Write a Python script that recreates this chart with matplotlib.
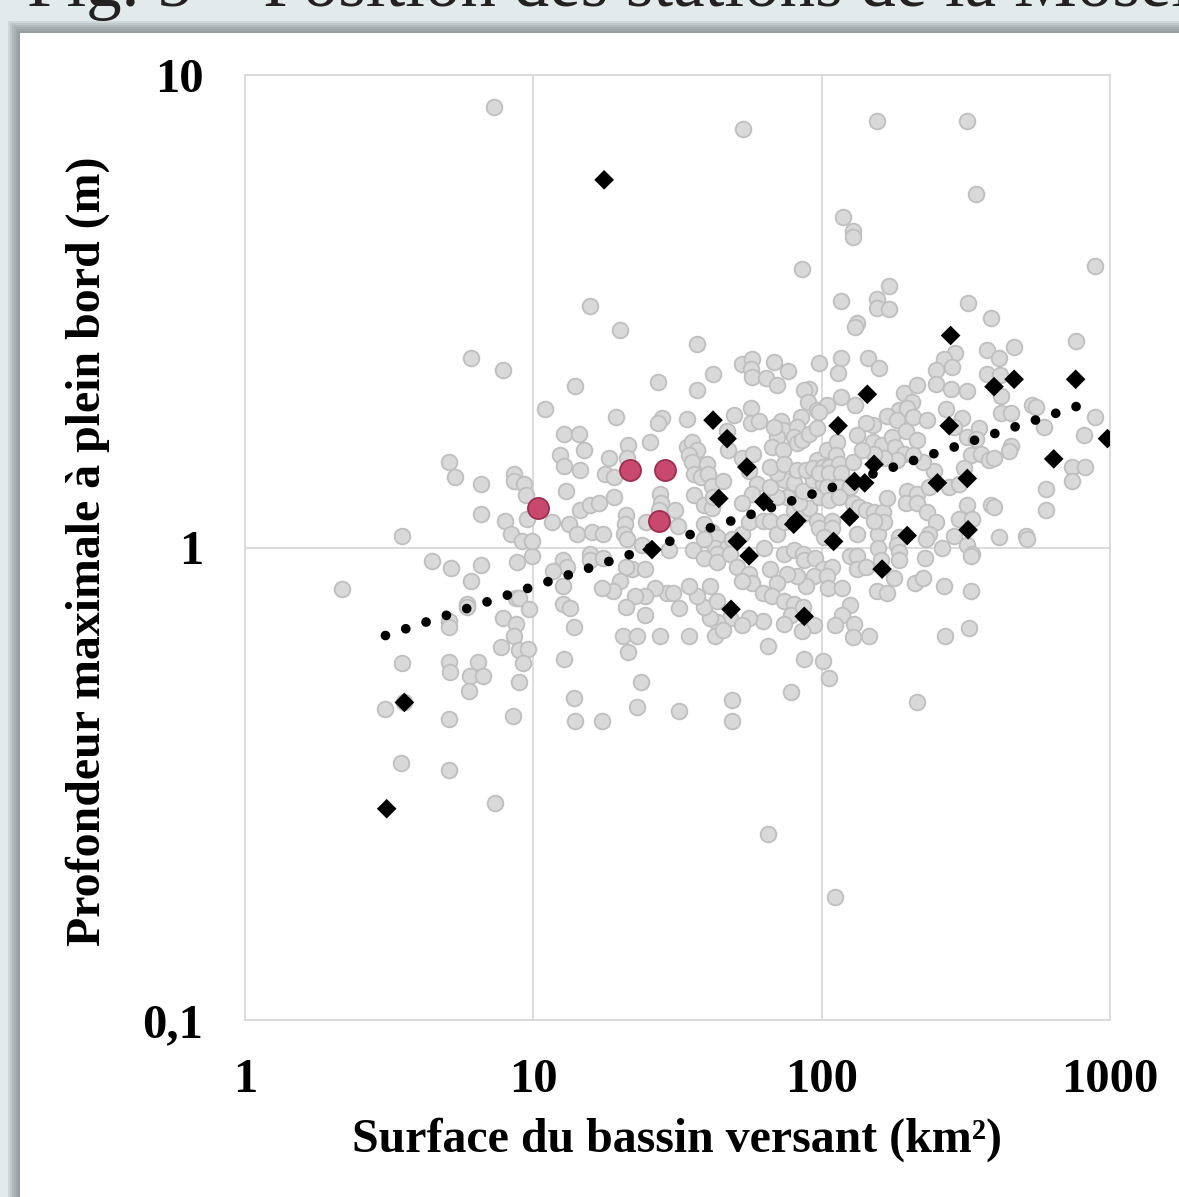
import numpy as np
import matplotlib.pyplot as plt
from matplotlib.patches import Rectangle
from matplotlib.ticker import NullLocator

plt.rcParams['font.family'] = ['Liberation Serif', 'DejaVu Serif']
plt.rcParams['font.weight'] = 'bold'

# --- data (surface km2, profondeur m) ---
# stations, 1 - 10 km2
gris_1_10 = [
    (2.17, 0.817), (3.5, 1.06), (4.45, 0.935), (5.2, 0.905), (6.6, 0.918), (8.75, 0.93),
    (9.9, 0.96), (7.3, 8.56), (6.1, 2.52), (7.85, 2.37), (5.1, 1.52), (5.35, 1.41),
    (6.6, 1.36), (8.6, 1.43), (8.6, 1.38), (9.3, 1.36), (9.45, 1.29), (6.6, 1.18),
    (8.0, 1.14), (9.5, 1.15), (8.35, 1.07), (9.1, 1.03), (9.9, 1.03), (6.1, 0.85),
    (5.9, 0.76), (5.9, 0.75), (8.7, 0.78), (8.95, 0.78), (9.65, 0.74), (7.85, 0.71),
    (8.7, 0.69), (8.55, 0.65), (5.1, 0.70), (5.1, 0.68), (7.7, 0.615), (8.95, 0.606),
    (9.6, 0.61), (9.2, 0.57), (3.5, 0.57), (5.1, 0.573), (5.15, 0.545), (6.45, 0.573),
    (6.05, 0.535), (6.7, 0.535), (6.0, 0.497), (8.95, 0.52), (3.06, 0.455), (3.57, 0.47),
    (5.1, 0.434), (8.5, 0.44), (3.48, 0.35), (5.1, 0.338), (7.35, 0.288),
]

# stations, 10 - 100 km2
gris_10_100 = [
    (53.5, 7.67), (85.5, 3.89), (15.7, 3.24), (19.9, 2.88), (37, 2.70), (52.9, 2.44),
    (57.5, 2.50), (57, 2.39), (57.3, 2.30), (68.5, 2.47), (76.5, 2.36), (64, 2.28),
    (70, 2.21), (98, 2.46), (42, 2.33), (27, 2.24), (37, 2.15), (13.9, 2.20),
    (11.0, 1.96), (19.3, 1.89), (28, 1.88), (27, 1.83), (34, 1.87), (49.5, 1.91),
    (57, 1.97), (57, 1.83), (60.5, 1.85), (72.5, 1.85), (85, 1.89), (90.5, 2.16),
    (87, 2.15), (90, 2.03), (96.5, 1.95), (104, 2.0), (73.5, 1.77), (82, 1.80),
    (80, 1.71), (70, 1.71), (68.5, 1.80), (67, 1.63), (73.5, 1.61), (82, 1.66),
    (85.5, 1.69), (90.5, 1.74), (96.5, 1.79), (96.5, 1.53), (104, 1.61),
    (12.8, 1.74), (14.4, 1.74), (12.4, 1.57), (12.8, 1.49), (15, 1.61), (14.5, 1.46),
    (18.3, 1.55), (21.3, 1.65), (21.1, 1.55), (25.4, 1.67), (17.7, 1.43), (19, 1.41),
    (13, 1.32), (19, 1.28), (14.5, 1.20), (15.7, 1.23), (16.9, 1.24), (11.6, 1.13),
    (13.3, 1.12), (14.2, 1.07), (16, 1.08), (17.5, 1.07), (21, 1.17), (20.8, 1.12),
    (20.6, 1.07), (21.1, 1.04), (24.6, 1.13), (27.5, 1.30), (27.7, 1.24), (27.3, 1.20),
    (31, 1.20), (31.8, 1.11), (29.5, 0.99), (23.8, 1.01), (35.8, 0.99),
    (34, 1.63), (35.5, 1.67), (37, 1.61), (34.8, 1.57), (35.5, 1.52), (40, 1.50),
    (36, 1.43), (38, 1.41), (40.5, 1.43), (41.5, 1.35), (45.5, 1.38), (47, 1.76),
    (47.5, 1.61), (53, 1.55), (58, 1.58), (56, 1.45), (59.5, 1.36), (57.5, 1.30),
    (53, 1.24), (36, 1.29), (39, 1.23), (41.5, 1.21), (42, 1.28), (39, 1.12),
    (41.5, 1.08), (43.5, 1.05), (42.5, 1.0), (47, 1.0), (49, 1.04), (53, 1.07),
    (56, 1.13), (62.5, 1.14), (66, 1.14), (70, 1.07), (74, 1.13), (80, 1.20),
    (86, 1.18), (90.5, 1.21), (96.5, 1.14), (98, 1.10), (83.5, 1.24), (76, 1.28),
    (70, 1.28), (66, 1.34), (74, 1.39), (80, 1.37), (86, 1.32), (93, 1.39),
    (98, 1.28), (101, 1.37), (70, 1.44), (66, 1.48), (74, 1.50), (82, 1.46),
    (88.5, 1.46), (93, 1.47), (101, 1.48),
    (39, 1.04), (43.5, 0.97), (39, 0.95), (43.5, 0.93), (48, 0.97), (51, 0.91),
    (56, 0.88), (57.5, 0.84), (53, 0.85), (63, 1.0), (66, 0.90), (74, 0.97),
    (80, 0.99), (86, 0.97), (87, 0.94), (95, 0.95), (101, 0.90), (94, 0.87),
    (88.5, 0.83), (82, 0.87), (76, 0.88), (70, 0.84), (62.5, 0.80), (67, 0.79),
    (74, 0.77), (80, 0.76), (78, 0.72), (86, 0.75), (94, 0.685), (74, 0.69),
    (62.5, 0.70), (56, 0.71), (48, 0.71), (53, 0.685), (43.5, 0.695), (41, 0.71),
    (39, 0.75), (37, 0.79), (34.8, 0.83), (41, 0.83), (43.5, 0.77), (29, 0.80),
    (30.5, 0.80), (26.5, 0.82), (24.3, 0.79), (22.5, 0.79), (21, 0.75), (24.3, 0.72),
    (32, 0.745), (27.5, 0.65), (34.8, 0.65), (20.4, 0.65), (22.9, 0.65), (22, 0.90),
    (24.3, 0.90), (21, 0.91), (19.9, 0.85), (18.9, 0.81), (17.3, 0.82), (15.7, 0.97),
    (15.7, 0.94), (12.7, 0.94), (13.1, 0.91), (11.7, 0.89), (12.7, 0.83), (12.7, 0.76),
    (13.4, 0.745), (13.8, 0.68), (17.5, 0.95),
    (21.3, 0.60), (42.5, 0.65), (45.5, 0.67), (65, 0.62), (85.5, 0.665), (87, 0.58),
    (101, 0.575), (106, 0.53), (12.8, 0.58), (23.6, 0.52), (13.8, 0.48), (14, 0.43),
    (17.3, 0.43), (22.9, 0.46), (32, 0.45), (49, 0.475), (49, 0.43), (78, 0.495),
    (65, 0.248),
]

# stations, 100 - 1000 km2
gris_100_1000 = [
    (155, 8.0), (320, 8.0), (342, 5.6), (119, 5.0), (128, 4.67), (128, 4.55),
    (885, 3.94), (117, 3.32), (155, 3.36), (155, 3.22), (171, 3.58), (171, 3.19),
    (133, 2.98), (130, 2.93), (322, 3.30), (387, 3.06), (290, 2.58), (375, 2.62),
    (412, 2.52), (465, 2.66), (765, 2.74), (117, 2.52), (145, 2.52), (266, 2.50),
    (114, 2.34), (158, 2.40), (284, 2.41), (250, 2.37), (250, 2.22), (282, 2.16),
    (318, 2.14), (375, 2.33), (416, 2.32), (117, 2.08), (130, 2.0), (98, 1.94),
    (193, 2.12), (214, 2.21), (205, 2.03), (186, 1.95), (198, 1.97), (168, 1.90),
    (182, 1.86), (151, 1.82), (142, 1.83), (133, 1.73), (113, 1.67), (112, 1.57),
    (106, 1.48), (115, 1.50), (128, 1.52), (151, 1.67), (162, 1.65), (175, 1.71),
    (179, 1.63), (196, 1.76), (207, 1.89), (214, 1.69), (193, 1.58), (232, 1.86),
    (270, 1.96), (307, 1.88), (288, 1.80), (318, 1.71), (351, 1.79), (342, 1.70),
    (330, 1.57), (358, 1.58), (380, 1.53), (396, 1.55), (312, 1.47), (246, 1.45),
    (224, 1.52), (207, 1.57), (182, 1.53), (165, 1.55), (152, 1.58), (138, 1.61),
    (420, 2.09), (420, 1.93), (455, 1.93), (536, 2.0), (556, 1.98), (590, 1.80),
    (455, 1.64), (446, 1.60), (811, 1.73), (890, 1.89), (740, 1.48), (820, 1.48),
    (740, 1.38), (600, 1.33), (600, 1.20), (387, 1.23), (396, 1.22), (412, 1.05),
    (510, 1.06), (515, 1.04),
    (98, 1.44), (106, 1.44), (117, 1.44), (104, 1.34), (115, 1.34), (125, 1.34),
    (106, 1.26), (115, 1.28), (128, 1.24), (135, 1.22), (142, 1.20), (152, 1.19),
    (163, 1.19), (168, 1.27), (198, 1.32), (214, 1.30), (196, 1.24), (214, 1.24),
    (236, 1.34), (276, 1.34), (299, 1.36), (232, 1.19), (318, 1.23), (299, 1.15),
    (333, 1.15), (250, 1.13), (236, 1.07), (230, 1.04), (262, 1.0), (288, 1.06),
    (320, 1.01), (333, 0.97), (330, 0.96), (186, 1.05), (183, 1.01), (186, 0.98),
    (186, 0.94), (157, 1.07), (165, 1.13), (152, 1.14), (133, 1.07), (109, 1.14),
    (109, 1.10), (102, 1.05), (125, 0.96), (133, 0.96), (133, 0.90), (142, 0.91),
    (157, 1.0), (160, 0.94), (109, 0.91), (104, 0.87), (105, 0.82), (118, 0.82),
    (178, 0.86), (210, 0.84), (225, 0.86), (229, 0.95), (266, 0.83), (330, 0.81),
    (155, 0.81), (168, 0.80), (125, 0.755), (118, 0.72), (111, 0.685), (129, 0.69),
    (146, 0.65), (268, 0.65), (324, 0.675), (128, 0.645), (214, 0.47), (111, 0.182),
]

# stations de reference (losanges noirs)
losanges = [
    (3.1, 0.28), (3.57, 0.47), (17.6, 6.0), (42, 1.86), (47, 1.70), (55, 1.48),
    (44, 1.27), (63, 1.25), (80, 1.12), (82, 1.14), (51, 1.03), (56, 0.96),
    (25.8, 0.99), (48.5, 0.74), (87, 0.715), (280, 2.81), (144, 2.11), (114, 1.81),
    (277, 1.81), (396, 2.19), (465, 2.27), (760, 2.27), (980, 1.70), (638, 1.54),
    (152, 1.50), (130, 1.38), (141, 1.37), (252, 1.37), (320, 1.40), (125, 1.16),
    (322, 1.09), (198, 1.06), (110, 1.03), (162, 0.90),
]

# stations mises en evidence (rouge)
stations_rouges = [(21.6, 1.46), (28.6, 1.46), (10.4, 1.21), (27.3, 1.14)]

# courbe de tendance (puissance) y = a * x^b
tend_a = 0.519
tend_b = 0.2023
tend_xmin, tend_xmax = 3.07, 870

W, H = 1179, 1197
fig = plt.figure(figsize=(W / 100, H / 100), dpi=100)
fig.patch.set_facecolor('#e3eaec')

# ombre + feuille blanche
for s in range(2, 14, 2):
    fig.add_artist(Rectangle(((20 - s) / W, 0), 1, (H - 33 + s) / H,
                             transform=fig.transFigure, facecolor='#6f7878',
                             edgecolor='none', alpha=0.16, zorder=-6))
fig.add_artist(Rectangle((20 / W, 0), 1, (H - 33) / H, transform=fig.transFigure,
                         facecolor='white', edgecolor='none', zorder=-5))

# titre de la figure, coupé en haut comme sur l'original
fig.text(27 / W, 1 - 6 / H, 'Fig. 5 \u2013 Position des stations de la Moselle',
         fontsize=51, fontweight='normal', color='#222222', va='baseline', zorder=-7)

ax = fig.add_axes([245 / W, 1 - 1020 / H, (1110 - 245) / W, (1020 - 75) / H])
ax.set_zorder(1)
ax.set_xscale('log')
ax.set_yscale('log')
ax.set_xlim(1, 1000)
ax.set_ylim(0.1, 10)

ax.set_xticks([1, 10, 100, 1000], ['1', '10', '100', '1000'])
ax.set_yticks([0.1, 1, 10], ['0,1', '1', '10'])
ax.xaxis.set_minor_locator(NullLocator())
ax.yaxis.set_minor_locator(NullLocator())
ax.tick_params(axis='both', length=0, labelsize=35)
ax.tick_params(axis='x', pad=27)
ax.tick_params(axis='y', pad=30)
ax.grid(True, which='major', color='#d9d9d9', linewidth=1.3)
ax.set_axisbelow(True)
for sp in ax.spines.values():
    sp.set_color('#d9d9d9')
    sp.set_linewidth(1.3)

gris = gris_1_10 + gris_10_100 + gris_100_1000
gx, gy = zip(*gris)
ax.scatter(gx, gy, s=128, facecolor='#d9d9d9', edgecolor='#bfbfbf',
           linewidth=1.3, zorder=2, clip_on=False)

rx, ry = zip(*stations_rouges)
ax.scatter(rx, ry, s=230, facecolor='#c9486e', edgecolor='#9e2f50',
           linewidth=1.3, zorder=3)

lx, ly = zip(*losanges)
ax.scatter(lx, ly, s=100, marker='D', facecolor='black', edgecolor='none', zorder=4)

xt = np.geomspace(tend_xmin, tend_xmax, 300)
ax.plot(xt, tend_a * xt ** tend_b, color='black', linewidth=7,
        linestyle=(0, (0.001, 2.2)), dash_capstyle='round', zorder=5)

fig.text(88 / W, 1 - 551.5 / H, 'Profondeur maximale à plein bord (m)',
         rotation=90, ha='center', va='center', fontsize=34.5, fontweight='bold')
fig.text(677 / W, 1 - 1140 / H, 'Surface du bassin versant (km²)',
         ha='center', va='center', fontsize=34.5, fontweight='bold')

fig.savefig('out.png', dpi=100)
